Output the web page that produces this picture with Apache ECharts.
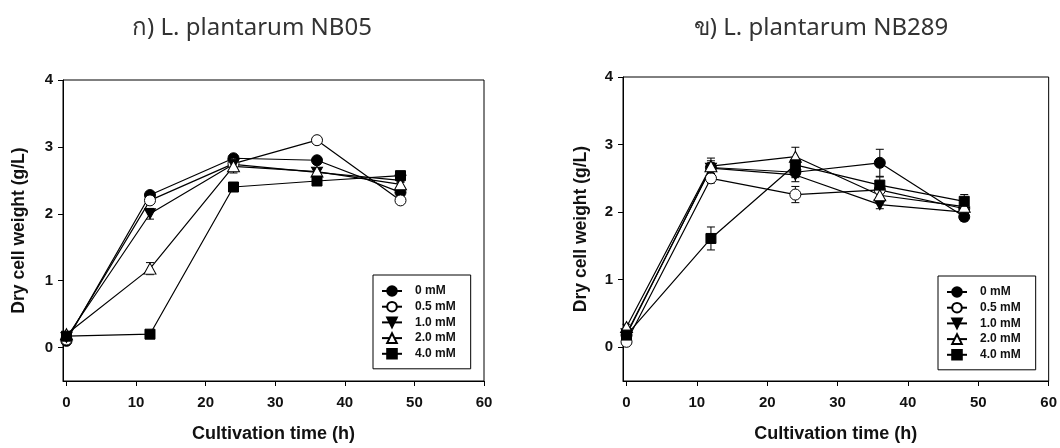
<!DOCTYPE html>
<html>
<head>
<meta charset="utf-8">
<script src="https://cdn.jsdelivr.net/npm/echarts@6/dist/echarts.min.js"></script>
<style>
  html, body { margin: 0; padding: 0; background: #fff; }
  #chart { width: 1060px; height: 448px; }
</style>
</head>
<body>
<div id="chart"></div>
<script>
// Sampling times (h) and concentration groups
const hours = [0, 12, 24, 36, 48];
const groupNames = ['0 mM', '0.5 mM', '1.0 mM', '2.0 mM', '4.0 mM'];
const xTicks = [0, 10, 20, 30, 40, 50, 60];
const yTicks = [0, 1, 2, 3, 4];

// ก) L. plantarum NB05 — dry cell weight (g/L)
const nb05_0mM  = [0.10, 2.28, 2.83, 2.80, 2.32];
const nb05_05mM = [0.12, 2.20, 2.75, 3.10, 2.20];
const nb05_10mM = [0.15, 2.00, 2.74, 2.62, 2.50];
const nb05_20mM = [0.20, 1.18, 2.71, 2.63, 2.44];
const nb05_40mM = [0.17, 0.20, 2.40, 2.49, 2.57];
// standard deviations
const nb05_0mM_sd  = [0.03, 0.04, 0.03, 0.03, 0.04];
const nb05_05mM_sd = [0.03, 0.04, 0.03, 0.03, 0.04];
const nb05_10mM_sd = [0.03, 0.08, 0.04, 0.03, 0.03];
const nb05_20mM_sd = [0.03, 0.09, 0.10, 0.04, 0.04];
const nb05_40mM_sd = [0.02, 0.02, 0.03, 0.03, 0.03];

// ข) L. plantarum NB289 — dry cell weight (g/L)
const nb289_0mM  = [0.18, 2.66, 2.59, 2.73, 1.93];
const nb289_05mM = [0.08, 2.50, 2.26, 2.33, 2.05];
const nb289_10mM = [0.20, 2.65, 2.55, 2.11, 2.00];
const nb289_20mM = [0.30, 2.68, 2.82, 2.25, 2.08];
const nb289_40mM = [0.18, 1.61, 2.70, 2.40, 2.16];
const nb289_0mM_sd  = [0.03, 0.10, 0.08, 0.20, 0.06];
const nb289_05mM_sd = [0.03, 0.07, 0.12, 0.06, 0.06];
const nb289_10mM_sd = [0.03, 0.08, 0.10, 0.06, 0.06];
const nb289_20mM_sd = [0.04, 0.12, 0.14, 0.08, 0.06];
const nb289_40mM_sd = [0.03, 0.17, 0.08, 0.12, 0.10];

const nb05 = [nb05_0mM, nb05_05mM, nb05_10mM, nb05_20mM, nb05_40mM];
const nb05Sd = [nb05_0mM_sd, nb05_05mM_sd, nb05_10mM_sd, nb05_20mM_sd, nb05_40mM_sd];
const nb289 = [nb289_0mM, nb289_05mM, nb289_10mM, nb289_20mM, nb289_40mM];
const nb289Sd = [nb289_0mM_sd, nb289_05mM_sd, nb289_10mM_sd, nb289_20mM_sd, nb289_40mM_sd];

// marker per group: filled circle, open circle, filled down-triangle, open triangle, filled square
const markers = [
  { symbol: 'circle', fill: '#000', size: 11 },
  { symbol: 'circle', fill: '#fff', size: 11 },
  { symbol: 'path://M0,0L20,0L10,17Z', fill: '#000', size: [11, 10] },
  { symbol: 'triangle', fill: '#fff', size: [12, 11] },
  { symbol: 'rect', fill: '#000', size: 10 }
];

const labelFont = { fontFamily: 'Liberation Sans, Arial, sans-serif', fontWeight: 'bold', color: '#111' };

function xAxisFor(gridIndex) {
  return {
    gridIndex, type: 'value', min: -0.5, max: 60,
    name: 'Cultivation time (h)', nameLocation: 'middle', nameGap: 44,
    nameTextStyle: Object.assign({ fontSize: 18 }, labelFont),
    axisLine: { show: true, onZero: false, lineStyle: { color: '#000', width: 1 } },
    axisTick: { show: true, inside: false, length: 5, lineStyle: { color: '#000' }, customValues: xTicks },
    axisLabel: Object.assign({ fontSize: 15, margin: 14, customValues: xTicks }, labelFont),
    splitLine: { show: false }
  };
}
function yAxisFor(gridIndex, gap) {
  return {
    gridIndex, type: 'value', min: -0.5, max: 4,
    name: 'Dry cell weight (g/L)', nameLocation: 'middle', nameGap: gap,
    nameTextStyle: Object.assign({ fontSize: 17.5 }, labelFont),
    axisLine: { show: true, onZero: false, lineStyle: { color: '#000', width: 1 } },
    axisTick: { show: true, inside: false, length: 5, lineStyle: { color: '#000' }, customValues: yTicks },
    axisLabel: Object.assign({ fontSize: 15, margin: 10, customValues: yTicks }, labelFont),
    splitLine: { show: false }
  };
}

function lineSeries(values, i, axisIndex) {
  const m = markers[i];
  return {
    name: groupNames[i], type: 'line',
    xAxisIndex: axisIndex, yAxisIndex: axisIndex,
    data: hours.map((h, k) => [h, values[k]]),
    symbol: m.symbol, symbolSize: m.size,
    showAllSymbol: true,
    itemStyle: { color: m.fill, borderColor: '#000', borderWidth: 1 },
    lineStyle: { color: '#000', width: 1.2 },
    emphasis: { disabled: true },
    z: 3
  };
}

function errorSeries(values, sd, axisIndex) {
  return {
    type: 'custom', xAxisIndex: axisIndex, yAxisIndex: axisIndex,
    data: hours.map((h, k) => [h, values[k], sd[k]]),
    encode: { x: 0, y: 1 },
    silent: true, z: 2,
    renderItem(params, api) {
      const x = api.value(0), y = api.value(1), e = api.value(2);
      const top = api.coord([x, y + e]);
      const bot = api.coord([x, y - e]);
      const w = 4;
      const st = { stroke: '#000', lineWidth: 1 };
      return {
        type: 'group',
        children: [
          { type: 'line', shape: { x1: top[0], y1: top[1], x2: bot[0], y2: bot[1] }, style: st },
          { type: 'line', shape: { x1: top[0] - w, y1: top[1], x2: top[0] + w, y2: top[1] }, style: st },
          { type: 'line', shape: { x1: bot[0] - w, y1: bot[1], x2: bot[0] + w, y2: bot[1] }, style: st }
        ]
      };
    }
  };
}

function legendFor(left, top) {
  return {
    orient: 'vertical', left, top,
    data: groupNames,
    itemWidth: 20, itemHeight: 12, itemGap: 3.7,
    padding: [10, 15, 9, 8],
    borderColor: '#000', borderWidth: 1, backgroundColor: '#fff',
    selectedMode: false,
    textStyle: Object.assign({ fontSize: 12, padding: [0, 0, 0, 8] }, labelFont)
  };
}

const series = [];
nb05.forEach((v, i) => series.push(errorSeries(v, nb05Sd[i], 0)));
nb289.forEach((v, i) => series.push(errorSeries(v, nb289Sd[i], 1)));
nb05.forEach((v, i) => series.push(lineSeries(v, i, 0)));
nb289.forEach((v, i) => series.push(lineSeries(v, i, 1)));

const chart = echarts.init(document.getElementById('chart'), null, { renderer: 'canvas' });
chart.setOption({
  backgroundColor: '#fff',
  animation: false,
  grid: [
    { left: 63, top: 80, width: 421, height: 302, show: true, borderColor: '#000', borderWidth: 1, backgroundColor: 'transparent' },
    { left: 623, top: 77, width: 428, height: 306, show: true, borderColor: '#000', borderWidth: 1, backgroundColor: 'transparent' }
  ],
  xAxis: [xAxisFor(0), xAxisFor(1)],
  yAxis: [yAxisFor(0, 35), yAxisFor(1, 33)],
  legend: [legendFor(373, 275), legendFor(938, 276)],
  graphic: [
    { type: 'text', x: 252, y: 28, style: { text: 'ก) L. plantarum NB05', fontSize: 24, fontFamily: 'Noto Sans, sans-serif', fill: '#333', align: 'center', verticalAlign: 'middle' } },
    { type: 'text', x: 821, y: 28, style: { text: 'ข) L. plantarum NB289', fontSize: 24, fontFamily: 'Noto Sans, sans-serif', fill: '#333', align: 'center', verticalAlign: 'middle' } }
  ],
  series
});
</script>
</body>
</html>
